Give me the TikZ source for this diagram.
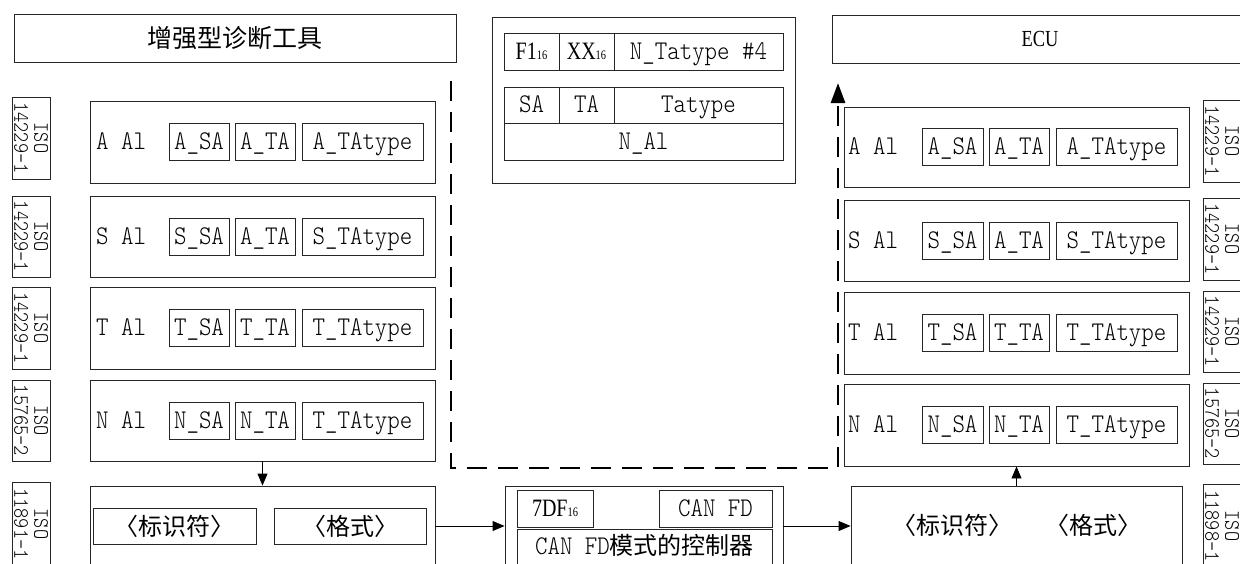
\documentclass[tikz,border=0pt]{standalone}
\usepackage{fontspec}
\newfontfamily\cjk{Noto Sans CJK SC}
\newfontfamily\mono[FakeStretch=0.88]{Latin Modern Mono Light}
\newfontfamily\nrw[FakeStretch=0.8]{Liberation Serif}
\usetikzlibrary{arrows.meta}
\tikzset{
  obx/.style={draw=black!85, line width=0.9pt, inner sep=0pt},
  bx/.style={draw=black!85, line width=0.9pt, inner sep=0pt, minimum height=37pt,
    text height=16pt, text depth=1pt, font=\mono\fontsize{27}{29}\selectfont},
  cbx/.style={draw=black!85, line width=0.9pt, inner sep=0pt, font=\cjk\fontsize{24}{26}\selectfont},
  ctext/.style={inner sep=0pt, font=\cjk\fontsize{24}{26}\selectfont},
  lbl/.style={anchor=west, inner sep=0pt, text height=16pt, text depth=1pt,
    font=\mono\fontsize{27}{29}\selectfont},
  iso/.style={draw=black!85, line width=0.9pt, inner sep=0pt, rotate=-90, align=center,
    minimum height=38pt, font=\mono\fontsize{22}{20}\selectfont},
  arr/.style={line width=0.9pt, -{Triangle[length=12pt,width=10pt]}},
  darr/.style={line width=2.8pt, dash pattern=on 20pt off 11pt, line join=miter,
    -{Triangle[length=20pt,width=14pt]}},
}
\newcommand{\subsx}[1]{{\nrw\fontsize{13}{13}\selectfont #1}}
\begin{document}
\begin{tikzpicture}[x=1pt,y=-1pt]
\useasboundingbox (0,0) rectangle (1240,563);
\fill[white] (0,0) rectangle (1240,563);
\clip (0,0) rectangle (1240,563);

% ---------- titles
\node[obx, minimum width=442pt, minimum height=48pt, font=\cjk\fontsize{25}{26}\selectfont] (ltitle) at (235,38) {增强型诊断工具};
\node[obx, minimum width=416pt, minimum height=48pt, font=\nrw\fontsize{23}{24}\selectfont] (rtitle) at (1040,39) {ECU};

% ---------- left ISO labels
\node[iso, minimum width=82pt] (liso1) at (31,138) {ISO\\14229-1};
\node[iso, minimum width=81pt] (liso2) at (31,236.5) {ISO\\14229-1};
\node[iso, minimum width=82pt] (liso3) at (31,328) {ISO\\14229-1};
\node[iso, minimum width=81pt] (liso4) at (31,420.5) {ISO\\15765-2};
\node[iso, minimum width=84pt] (liso5) at (31,524) {ISO\\11891-1};

% ---------- right ISO labels
\node[iso, minimum width=82pt] (riso1) at (1222,141) {ISO\\14229-1};
\node[iso, minimum width=82pt] (riso2) at (1222,239) {ISO\\14229-1};
\node[iso, minimum width=81pt] (riso3) at (1222,331.5) {ISO\\14229-1};
\node[iso, minimum width=81pt] (riso4) at (1222,423.5) {ISO\\15765-2};
\node[iso, minimum width=84pt] (riso5) at (1222,526) {ISO\\11898-1};

% ---------- left rows
\foreach \k/\cy/\h/\sa/\ta/\ty in {A/142/82/A/A/A, S/236.5/81/S/A/S, T/328/82/T/T/T, N/420.5/81/N/N/T}{
  \node[obx, minimum width=345pt, minimum height=\h pt] (l\k) at (262.5,\cy) {};
  \node[lbl] (l\k lab) at (96,\cy) {\k\ Al};
  \node[bx, minimum width=60pt] (l\k sa) at (199,\cy) {\sa\_SA};
  \node[bx, minimum width=60pt] (l\k ta) at (265,\cy) {\ta\_TA};
  \node[bx, minimum width=121pt] (l\k ty) at (362.5,\cy) {\ty\_TAtype};
}

% ---------- right rows
\foreach \k/\cy/\h/\sa/\ta/\ty in {A/147/80/A/A/A, S/240.5/81/S/A/S, T/333/82/T/T/T, N/425/82/N/N/T}{
  \node[obx, minimum width=345pt, minimum height=\h pt] (r\k) at (1016.5,\cy) {};
  \node[lbl] (r\k lab) at (848,\cy) {\k\ Al};
  \node[bx, minimum width=61pt] (r\k sa) at (952.5,\cy) {\sa\_SA};
  \node[bx, minimum width=60pt] (r\k ta) at (1019,\cy) {\ta\_TA};
  \node[bx, minimum width=121pt] (r\k ty) at (1116.5,\cy) {\ty\_TAtype};
}

% ---------- middle frame
\node[obx, minimum width=303pt, minimum height=166pt] (mT) at (643.5,100) {};
\node[bx, minimum width=55pt] (mF1) at (531.5,51.5) {{\nrw\fontsize{25}{27}\selectfont F1}\subsx{16}};
\node[bx, minimum width=55pt] (mXX) at (586.5,51.5) {{\nrw\fontsize{25}{27}\selectfont XX}\subsx{16}};
\node[bx, minimum width=169pt] (mNT) at (698.5,51.5) {N\_Tatype \#4};
\node[bx, minimum width=55pt, minimum height=36pt] (mSA) at (531.5,105) {SA};
\node[bx, minimum width=55pt, minimum height=36pt] (mTA) at (586.5,105) {TA};
\node[bx, minimum width=169pt, minimum height=36pt] (mTy) at (698.5,105) {Tatype};
\node[bx, minimum width=279pt] (mNA) at (643.5,141.5) {N\_Al};

% ---------- bottom boxes
\node[obx, minimum width=345pt, minimum height=80pt] (lB) at (262.5,526) {};
\node[cbx, minimum width=163pt, minimum height=36pt] (lid) at (174.5,526) {〈标识符〉};
\node[cbx, minimum width=152pt, minimum height=36pt] (lfmt) at (350,526) {〈格式〉};

\node[obx, minimum width=278pt, minimum height=80pt] (mB) at (644,526) {};
\node[bx, minimum width=76pt] (m7DF) at (555,508.5) {{\nrw\fontsize{25}{27}\selectfont 7DF}\subsx{16}};
\node[bx, minimum width=113pt] (mCAN) at (715.5,508.5) {CAN FD};
\node[bx, minimum width=255pt, minimum height=36pt] (mctl) at (644.5,547) {CAN FD{\cjk\fontsize{24}{26}\selectfont 模式的控制器}};

\node[obx, minimum width=331pt, minimum height=80pt] (rB) at (1016.5,526) {};
\node[ctext] (rid) at (952,525) {〈标识符〉};
\node[ctext] (rfmt) at (1093,525) {〈格式〉};

% ---------- connectors
\draw[arr] (lN.south) -- (lB.north);
\draw[arr] (lB.east) -- (mB.west);
\draw[arr] (mB.east) -- (rB.west);
\draw[arr] (rB.north) -- (rN.south);

\coordinate (ds) at (451,81);
\coordinate (dc1) at (451,468);
\coordinate (dc2) at (838,468);
\coordinate (de) at (838,83);
\draw[darr] (ds) -- (dc1) -- (dc2) -- (de);
\end{tikzpicture}
\end{document}
